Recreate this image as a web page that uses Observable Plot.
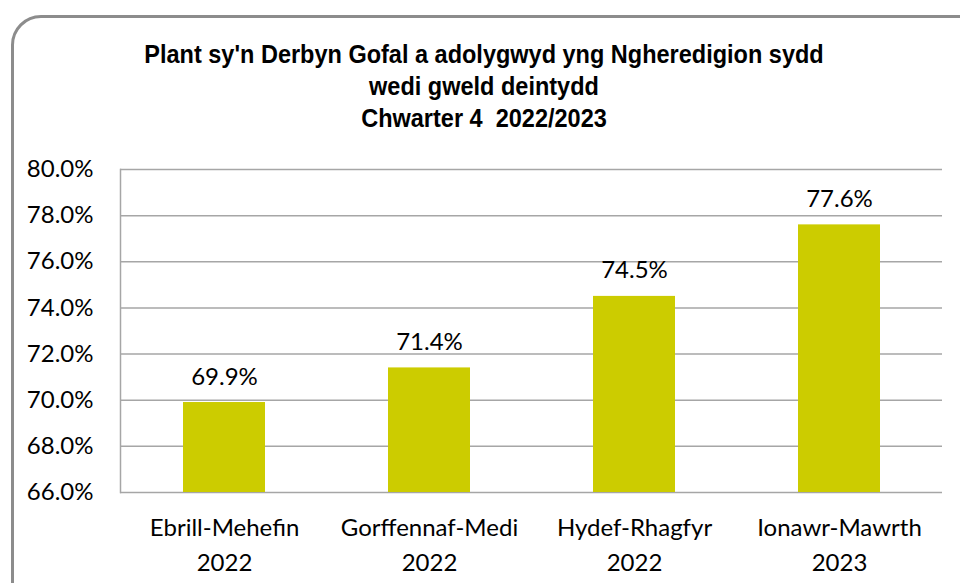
<!DOCTYPE html>
<html><head><meta charset="utf-8">
<script src="https://cdn.jsdelivr.net/npm/d3@7"></script>
<script src="https://cdn.jsdelivr.net/npm/@observablehq/plot@0.6"></script>
<style>
body{margin:0;background:#fff;}
#wrap{position:relative;width:960px;height:583px;overflow:hidden;background:#fff;}
#border{position:absolute;left:11px;top:15px;width:1000px;height:620px;border:3px solid #8c8c8c;border-radius:30px;box-sizing:border-box;}
#title{position:absolute;left:0;top:0;width:968px;text-align:center;font-family:"Liberation Sans",Arial,sans-serif;font-weight:bold;font-size:23.5px;color:#000;}
#title div{position:absolute;left:0;width:100%;line-height:30px;transform:scaleY(1.12);}
#chart{position:absolute;left:0;top:140px;}
</style></head>
<body>
<div id="wrap">
  <div id="border"></div>
  <div id="title"></div>
  <div id="chart"></div>
</div>
<script>
const titleLines = ["Plant sy'n Derbyn Gofal a adolygwyd yng Ngheredigion sydd", "wedi gweld deintydd", "Chwarter 4  2022/2023"];
const periods = ["Ebrill-Mehefin\n2022", "Gorffennaf-Medi\n2022", "Hydef-Rhagfyr\n2022", "Ionawr-Mawrth\n2023"];
const values = [69.9, 71.4, 74.5, 77.6];
const yTicks = [66, 68, 70, 72, 74, 76, 78, 80];

const t = document.getElementById("title");
titleLines.forEach((s, i) => {
  const d = document.createElement("div");
  d.textContent = s;
  d.style.top = (39 + i * 32) + "px";
  d.style.whiteSpace = "pre";
  t.appendChild(d);
});

const data = periods.map((p, i) => ({period: p, value: values[i]}));
const font = "Lato, 'Open Sans', sans-serif";

const chart = Plot.plot({
  width: 960,
  height: 443,
  marginTop: 29,
  marginBottom: 91,
  marginLeft: 120,
  marginRight: 18,
  style: {fontFamily: font, fontSize: "24px", color: "#000", background: "transparent"},
  x: {domain: periods, paddingInner: 0.6, paddingOuter: 0.3, label: null},
  y: {domain: [66, 80], label: null},
  marks: [
    Plot.gridY(yTicks, {stroke: "#a6a6a6", strokeOpacity: 1, strokeWidth: 1.5}),
    Plot.frame({anchor: "left", stroke: "#a6a6a6", strokeWidth: 1.5}),
    Plot.barY(data, {x: "period", y1: 66, y2: "value", fill: "#cccc00"}),
    Plot.axisY(yTicks, {tickSize: 0, tickPadding: 27, tickFormat: d => d.toFixed(1) + "%", fontSize: 24, label: null}),
    Plot.axisX({tickSize: 0, tickPadding: 19, fontSize: 24, lineHeight: 1.45, label: null}),
    Plot.text(data, {x: "period", y: "value", text: d => d.value.toFixed(1) + "%", lineAnchor: "bottom", dy: -18, fontSize: 24, fill: "#000"})
  ]
});
document.getElementById("chart").appendChild(chart);
</script>
</body></html>
